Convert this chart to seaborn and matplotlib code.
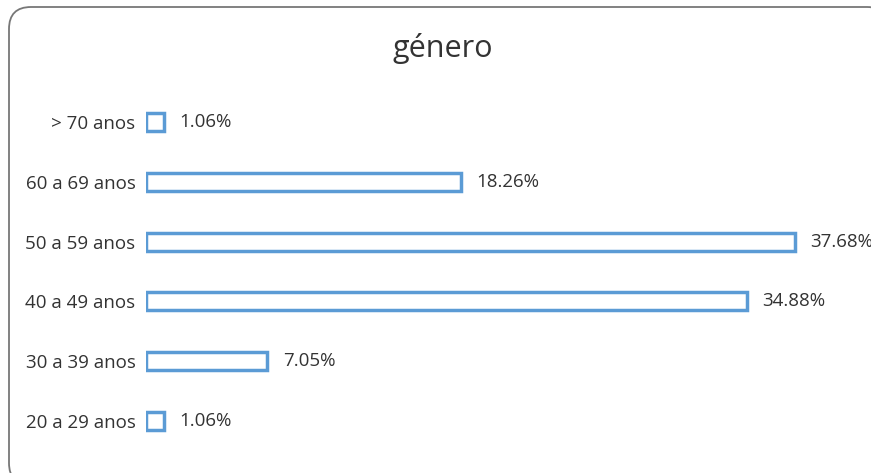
import matplotlib

matplotlib.use('Agg')
import matplotlib.pyplot as plt
import matplotlib.transforms as mtransforms
import seaborn as sns
import pandas as pd
from matplotlib.patches import FancyBboxPatch

# --- data ---
faixas = ['> 70 anos', '60 a 69 anos', '50 a 59 anos',
          '40 a 49 anos', '30 a 39 anos', '20 a 29 anos']
percentuais = [1.06, 18.26, 37.68, 34.88, 7.05, 1.06]
rotulos = ['1.06%', '18.26%', '37.68%', '34.88%', '7.05%', '1.06%']

df = pd.DataFrame({'faixa': faixas, 'pct': percentuais})

sns.set_style('white')
plt.rcParams['font.family'] = ['Open Sans', 'DejaVu Sans']

W, H = 871, 473
fig = plt.figure(figsize=(W / 100, H / 100), dpi=100)

# rounded frame around the card, in pixels (clipped at right/bottom like the screenshot)
frame = FancyBboxPatch((9, -12), 880, 473 - 7 + 12,
                       boxstyle="round,pad=0,rounding_size=22",
                       transform=mtransforms.IdentityTransform(),
                       facecolor='white', edgecolor='#777777',
                       linewidth=1.3, zorder=-1)
fig.patches.append(frame)

ax = fig.add_axes([146 / W, 1 - 451 / H, (835 - 146) / W, (451 - 92) / H])
ax.set_facecolor('none')

sns.barplot(data=df, x='pct', y='faixa', order=faixas, orient='h', ax=ax,
            color='white', edgecolor='#5B9BD5', linewidth=2.5, width=0.3,
            saturation=1)

ax.set_xlim(0, 40)
ax.set_ylim(5.5, -0.5)
ax.set_xlabel('')
ax.set_ylabel('')
ax.set_xticks([])
ax.tick_params(axis='y', length=0, pad=7.5, labelsize=13.5, labelcolor='#333333')
for s in ax.spines.values():
    s.set_visible(False)

for i, (v, lab) in enumerate(zip(percentuais, rotulos)):
    ax.annotate(lab, xy=(v, i), xytext=(11, 0), textcoords='offset points',
                va='center', ha='left', fontsize=13.5, color='#333333',
                annotation_clip=False)

fig.text(443 / W, 1 - 48 / H, 'género', ha='center', va='center',
         fontsize=22, color='#333333')

fig.savefig('out.png', dpi=100)
